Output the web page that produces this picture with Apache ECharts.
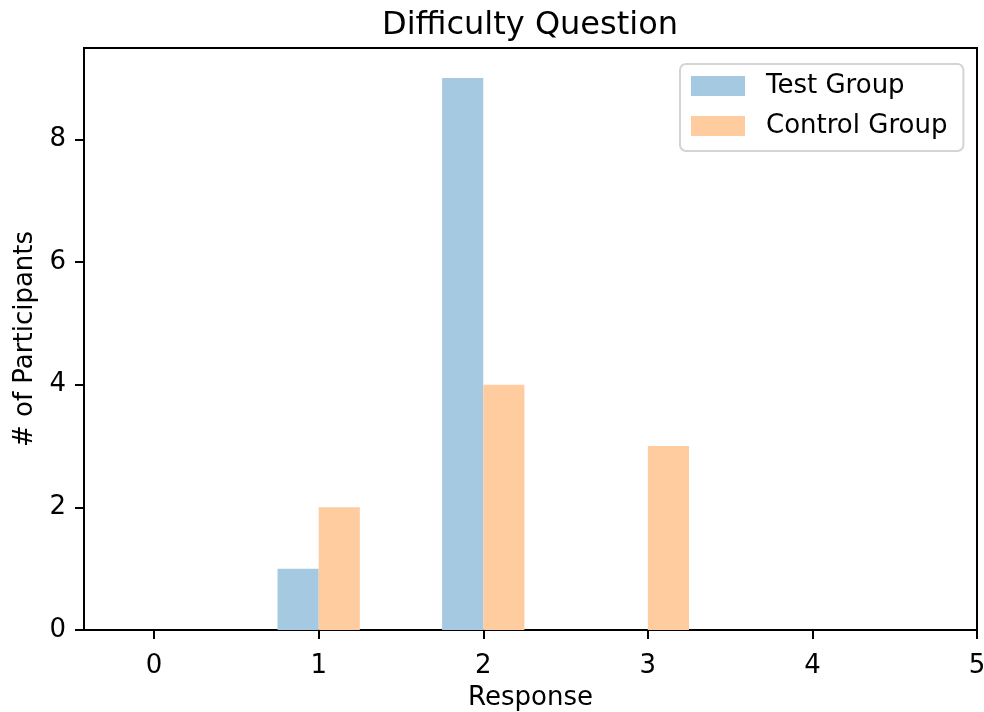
<!DOCTYPE html>
<html>
<head>
<meta charset="utf-8">
<script src="https://cdn.jsdelivr.net/npm/echarts@6/dist/echarts.min.js"></script>
<style>
  html, body { margin: 0; padding: 0; background: #fff; }
  #chart { width: 984px; height: 712px; }
</style>
</head>
<body>
<div id="chart"></div>
<script>
// Survey responses (answer value) and how many participants gave each one
const responses = [1, 2, 3];
const testCounts = [1, 9, 0];
const controlCounts = [2, 4, 3];

const xTicks = [0, 1, 2, 3, 4, 5];
const yTicks = [0, 2, 4, 6, 8];

const FONT = 'DejaVu Sans';
const TEST_COLOR = '#a5c9e1';
const CONTROL_COLOR = '#ffcc9f';
const BAR_WIDTH = 0.25;

// Histogram-style bars: each group sits on one side of the response value
function barRenderer(offset) {
  return function (params, api) {
    const x = api.value(0);
    const y = api.value(1);
    const topLeft = api.coord([x + offset, y]);
    const bottomRight = api.coord([x + offset + BAR_WIDTH, 0]);
    return {
      type: 'rect',
      shape: {
        x: topLeft[0],
        y: topLeft[1],
        width: bottomRight[0] - topLeft[0],
        height: bottomRight[1] - topLeft[1]
      },
      style: { fill: api.visual('color') }
    };
  };
}

const chart = echarts.init(document.getElementById('chart'), null, { renderer: 'canvas' });

chart.setOption({
  animation: false,
  backgroundColor: '#ffffff',
  textStyle: { fontFamily: FONT },
  title: {
    text: 'Difficulty Question',
    top: 5,
    left: 525,
    textAlign: 'center',
    textStyle: { fontFamily: FONT, fontSize: 32, fontWeight: 'normal', color: '#000' }
  },
  legend: {
    left: 680,
    top: 64,
    orient: 'vertical',
    padding: [9, 16, 12, 11],
    itemGap: 14,
    itemWidth: 54,
    itemHeight: 20,
    icon: 'rect',
    backgroundColor: '#ffffff',
    borderColor: '#d4d4d4',
    borderWidth: 2,
    borderRadius: 6,
    textStyle: { fontFamily: FONT, fontSize: 26, color: '#000', padding: [0, 0, 0, 16] },
    data: ['Test Group', 'Control Group']
  },
  grid: {
    left: 84,
    right: 7,
    top: 48,
    bottom: 82,
    outerBoundsMode: 'none',
    containLabel: false,
    show: true,
    borderColor: '#000',
    borderWidth: 2,
    backgroundColor: 'transparent'
  },
  xAxis: {
    type: 'value',
    min: -0.426,
    max: 5,
    name: 'Response',
    nameLocation: 'middle',
    nameGap: 55,
    nameTextStyle: { fontFamily: FONT, fontSize: 26, color: '#000' },
    axisLine: { show: true, onZero: false, lineStyle: { color: '#000', width: 2 } },
    axisTick: { show: true, length: 9, lineStyle: { color: '#000', width: 2 }, customValues: xTicks },
    axisLabel: { fontFamily: FONT, fontSize: 26, color: '#000', margin: 23, customValues: xTicks },
    splitLine: { show: false }
  },
  yAxis: {
    type: 'value',
    min: 0,
    max: 9.49,
    name: '# of Participants',
    nameLocation: 'middle',
    nameGap: 38,
    nameTextStyle: { fontFamily: FONT, fontSize: 26, color: '#000' },
    axisLine: { show: true, onZero: false, lineStyle: { color: '#000', width: 2 } },
    axisTick: { show: true, length: 9, lineStyle: { color: '#000', width: 2 }, customValues: yTicks },
    axisLabel: { fontFamily: FONT, fontSize: 26, color: '#000', margin: 18, customValues: yTicks },
    splitLine: { show: false }
  },
  series: [
    {
      name: 'Test Group',
      type: 'custom',
      itemStyle: { color: TEST_COLOR },
      renderItem: barRenderer(-BAR_WIDTH),
      encode: { x: 0, y: 1 },
      data: responses.map((r, i) => [r, testCounts[i]])
    },
    {
      name: 'Control Group',
      type: 'custom',
      itemStyle: { color: CONTROL_COLOR },
      renderItem: barRenderer(0),
      encode: { x: 0, y: 1 },
      data: responses.map((r, i) => [r, controlCounts[i]])
    }
  ]
});
</script>
</body>
</html>
